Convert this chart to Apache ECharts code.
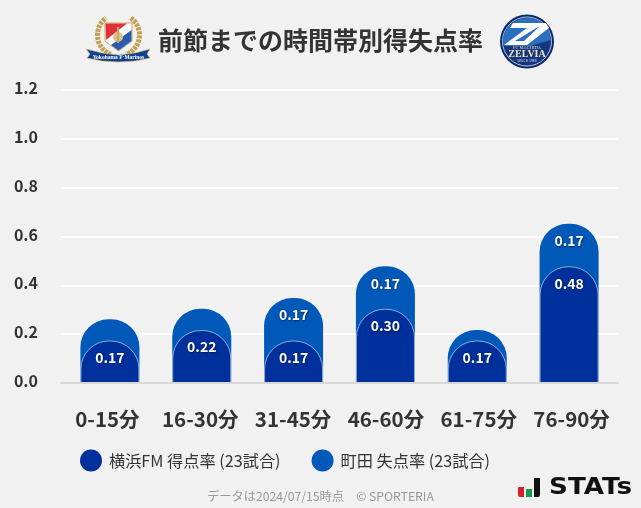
<!DOCTYPE html>
<html><head><meta charset="utf-8">
<style>html,body{margin:0;padding:0;background:#f1f1f1}#c{width:641px;height:508px}</style>
<script src="https://cdn.jsdelivr.net/npm/echarts@6/dist/echarts.min.js"></script>
</head><body><div id="c"></div>
<script>
const categories = ['0-15分','16-30分','31-45分','46-60分','61-75分','76-90分'];
const yTicks = [0,0.2,0.4,0.6,0.8,1.0,1.2];
const homeName = '横浜FM 得点率 (23試合)';
const awayName = '町田 失点率 (23試合)';
const homeRates = [0.174,0.217,0.174,0.304,0.174,0.478];
const awayRates = [0.087,0.087,0.174,0.174,0.043,0.174];
const titleText = '前節までの時間帯別得失点率';
const footerText = 'データは2024/07/15時点　© SPORTERIA';

const FONT = '"Noto Sans CJK JP","Noto Sans",sans-serif';
const DARK = '#00309c', BLUE = '#0059b8';
const awayTops = awayRates.map((v,i)=>+(v+homeRates[i]).toFixed(3));
const lab = (arr)=>({show:true,position:'insideTop',distance:10,color:'#fff',fontFamily:FONT,fontSize:14,fontWeight:700,
  textShadowColor:'rgba(0,0,0,.55)',textShadowBlur:2,textShadowOffsetX:.5,textShadowOffsetY:.5,
  formatter:p=>arr[p.dataIndex]<0.1?'':arr[p.dataIndex].toFixed(2)});

const chart = echarts.init(document.getElementById('c'),null,{renderer:'canvas'});
chart.setOption({
  animation:false,
  backgroundColor:'#f1f1f1',
  title:[
    {text:titleText,left:320.5,textAlign:'center',top:28,padding:0,textStyle:{fontFamily:FONT,fontSize:25,fontWeight:700,color:'#333'}},
    {text:footerText,left:320.5,textAlign:'center',top:490,padding:0,textStyle:{fontFamily:FONT,fontSize:12.2,fontWeight:400,color:'#999'}}
  ],
  legend:{left:80,top:449.5,padding:0,itemWidth:22,itemHeight:22,itemGap:31,icon:'circle',selectedMode:false,
    itemStyle:{borderWidth:0},
    data:[homeName,awayName],textStyle:{fontFamily:FONT,fontSize:16.2,color:'#333',padding:[0,0,0,2]}},
  grid:[
    {left:61,right:23,top:90,height:293},
    {left:64,right:26,top:90,height:293},
    {left:61,right:23,top:88,height:293}
  ],
  xAxis:[
    {gridIndex:0,type:'category',data:categories,z:5,axisTick:{show:false},
     axisLabel:{interval:0,margin:26,fontFamily:FONT,fontSize:20.5,fontWeight:700,color:'#333'},
     axisLine:{show:true,lineStyle:{color:'#d8d8d8',width:2}}},
    {gridIndex:1,type:'category',data:categories,show:false},
    {gridIndex:2,type:'category',data:categories,show:false}
  ],
  yAxis:[
    {gridIndex:0,type:'value',min:0,max:1.2,interval:0.2,axisLine:{show:false},axisTick:{show:false},axisLabel:{show:false},
     splitLine:{show:true,lineStyle:{color:'#fff',width:2}}},
    {gridIndex:1,type:'value',min:0,max:1.2,interval:0.2,show:false},
    {gridIndex:2,type:'value',min:0,max:1.2,interval:0.2,axisLine:{show:false},axisTick:{show:false},splitLine:{show:false},
     axisLabel:{margin:23,fontFamily:FONT,fontSize:16,fontWeight:700,color:'#333',formatter:v=>v.toFixed(1)}}
  ],
  series:[
    {name:awayName,type:'bar',xAxisIndex:1,yAxisIndex:1,data:awayTops,barWidth:59,barGap:'-100%',
     itemStyle:{color:BLUE,borderRadius:[28,28,0,0]},label:lab(awayRates)},
    {name:homeName,type:'bar',xAxisIndex:1,yAxisIndex:1,data:homeRates,barWidth:59,barGap:'-100%',
     itemStyle:{color:DARK,borderRadius:[28,28,0,0],borderColor:'rgba(255,255,255,.55)',borderWidth:1},label:lab(homeRates)}
  ],
  graphic:[
    // Yokohama F-Marinos crest (approximation)
    {type:'group',silent:true,children:[
      {type:'arc',shape:{cx:118.5,cy:35,r:21,startAngle:Math.PI*0.62,endAngle:Math.PI*1.3},style:{stroke:'#c2a050',lineWidth:5,lineDash:[3,1],fill:null}},
      {type:'arc',shape:{cx:118.5,cy:35,r:21,startAngle:Math.PI*1.7,endAngle:Math.PI*0.38},style:{stroke:'#c2a050',lineWidth:5,lineDash:[3,1],fill:null}},
      {type:'polygon',shape:{points:[[105,23],[132,23],[132,41],[118.5,51],[105,41]]},style:{fill:'#fff',stroke:'#c9a85a',lineWidth:1}},
      {type:'polygon',shape:{points:[[105.5,23.5],[127,23.5],[106,40]]},style:{fill:'#e0303a'}},
      {type:'polygon',shape:{points:[[131.5,30],[131.5,41],[118.5,50.5],[111,45]]},style:{fill:'#2a5bb0'}},
      {type:'circle',shape:{cx:118,cy:37,r:5},style:{fill:'#d8c48a'}},
      {type:'rect',shape:{x:117,y:27,width:2,height:16},style:{fill:'#c9a85a'}},
      {type:'polygon',shape:{points:[[86,49],[102,53],[118.5,55],[135,53],[150,49],[147,54],[150,58],[135,61],[118.5,62],[102,61],[87,58],[90,54]]},style:{fill:'#12408f',stroke:'#d9bd70',lineWidth:.6}},
      {type:'text',style:{x:118.5,y:58,text:'Yokohama F·Marinos',align:'center',verticalAlign:'middle',fontFamily:'"Liberation Serif",serif',fontSize:5.5,fontWeight:700,fill:'#fff'}}
    ]},
    // FC Machida Zelvia crest (approximation)
    {type:'group',silent:true,children:[
      {type:'circle',shape:{cx:527,cy:41.5,r:27},style:{fill:'#0b2a6b'}},
      {type:'circle',shape:{cx:527,cy:41.5,r:24.5},style:{fill:'#15357f',stroke:'#dfe4ee',lineWidth:.8}},
      {type:'polygon',shape:{points:[[512,23],[521,18.5],[533,18],[543,23],[549,31],[551,40],[530,46],[503,46],[503.5,37],[506,29]]},style:{fill:'#2a6fc0'}},
      {type:'polygon',shape:{points:[[513,23],[546,23],[549,28],[527,45],[504,45],[527,28],[510,28]]},style:{fill:'#fff'}},
      {type:'polygon',shape:{points:[[533,30],[540,26],[524,41],[515,41]]},style:{fill:'#2a6fc0'}},
      {type:'text',style:{x:527,y:47.5,text:'FC MACHIDA',align:'center',verticalAlign:'middle',fontFamily:'"Liberation Serif",serif',fontSize:4.5,fill:'#e8e2c0'}},
      {type:'text',style:{x:527,y:54,text:'ZELVIA',align:'center',verticalAlign:'middle',fontFamily:'"Liberation Serif",serif',fontSize:10,fontWeight:700,fill:'#ede6c0'}},
      {type:'text',style:{x:527,y:61,text:'SINCE 1989',align:'center',verticalAlign:'middle',fontFamily:'"Liberation Sans",sans-serif',fontSize:3.5,fill:'#d0d6e4'}}
    ]},
    // STATs logo
    {type:'group',silent:true,children:[
      {type:'rect',shape:{x:518,y:487,width:6,height:10,r:[1,0,0,2]},style:{fill:'#d8202a'}},
      {type:'rect',shape:{x:526,y:489,width:6,height:8},style:{fill:'#1a9a4a'}},
      {type:'rect',shape:{x:534,y:478,width:6,height:19,r:[0,0,2,0]},style:{fill:'#111'}},
      {type:'text',x:549,y:488,scaleX:1.14,style:{x:0,y:0,text:'STATs',verticalAlign:'middle',fontFamily:'"DejaVu Sans",sans-serif',fontSize:23,fontWeight:700,fill:'#111'}}
    ]}
  ]
});
</script></body></html>
